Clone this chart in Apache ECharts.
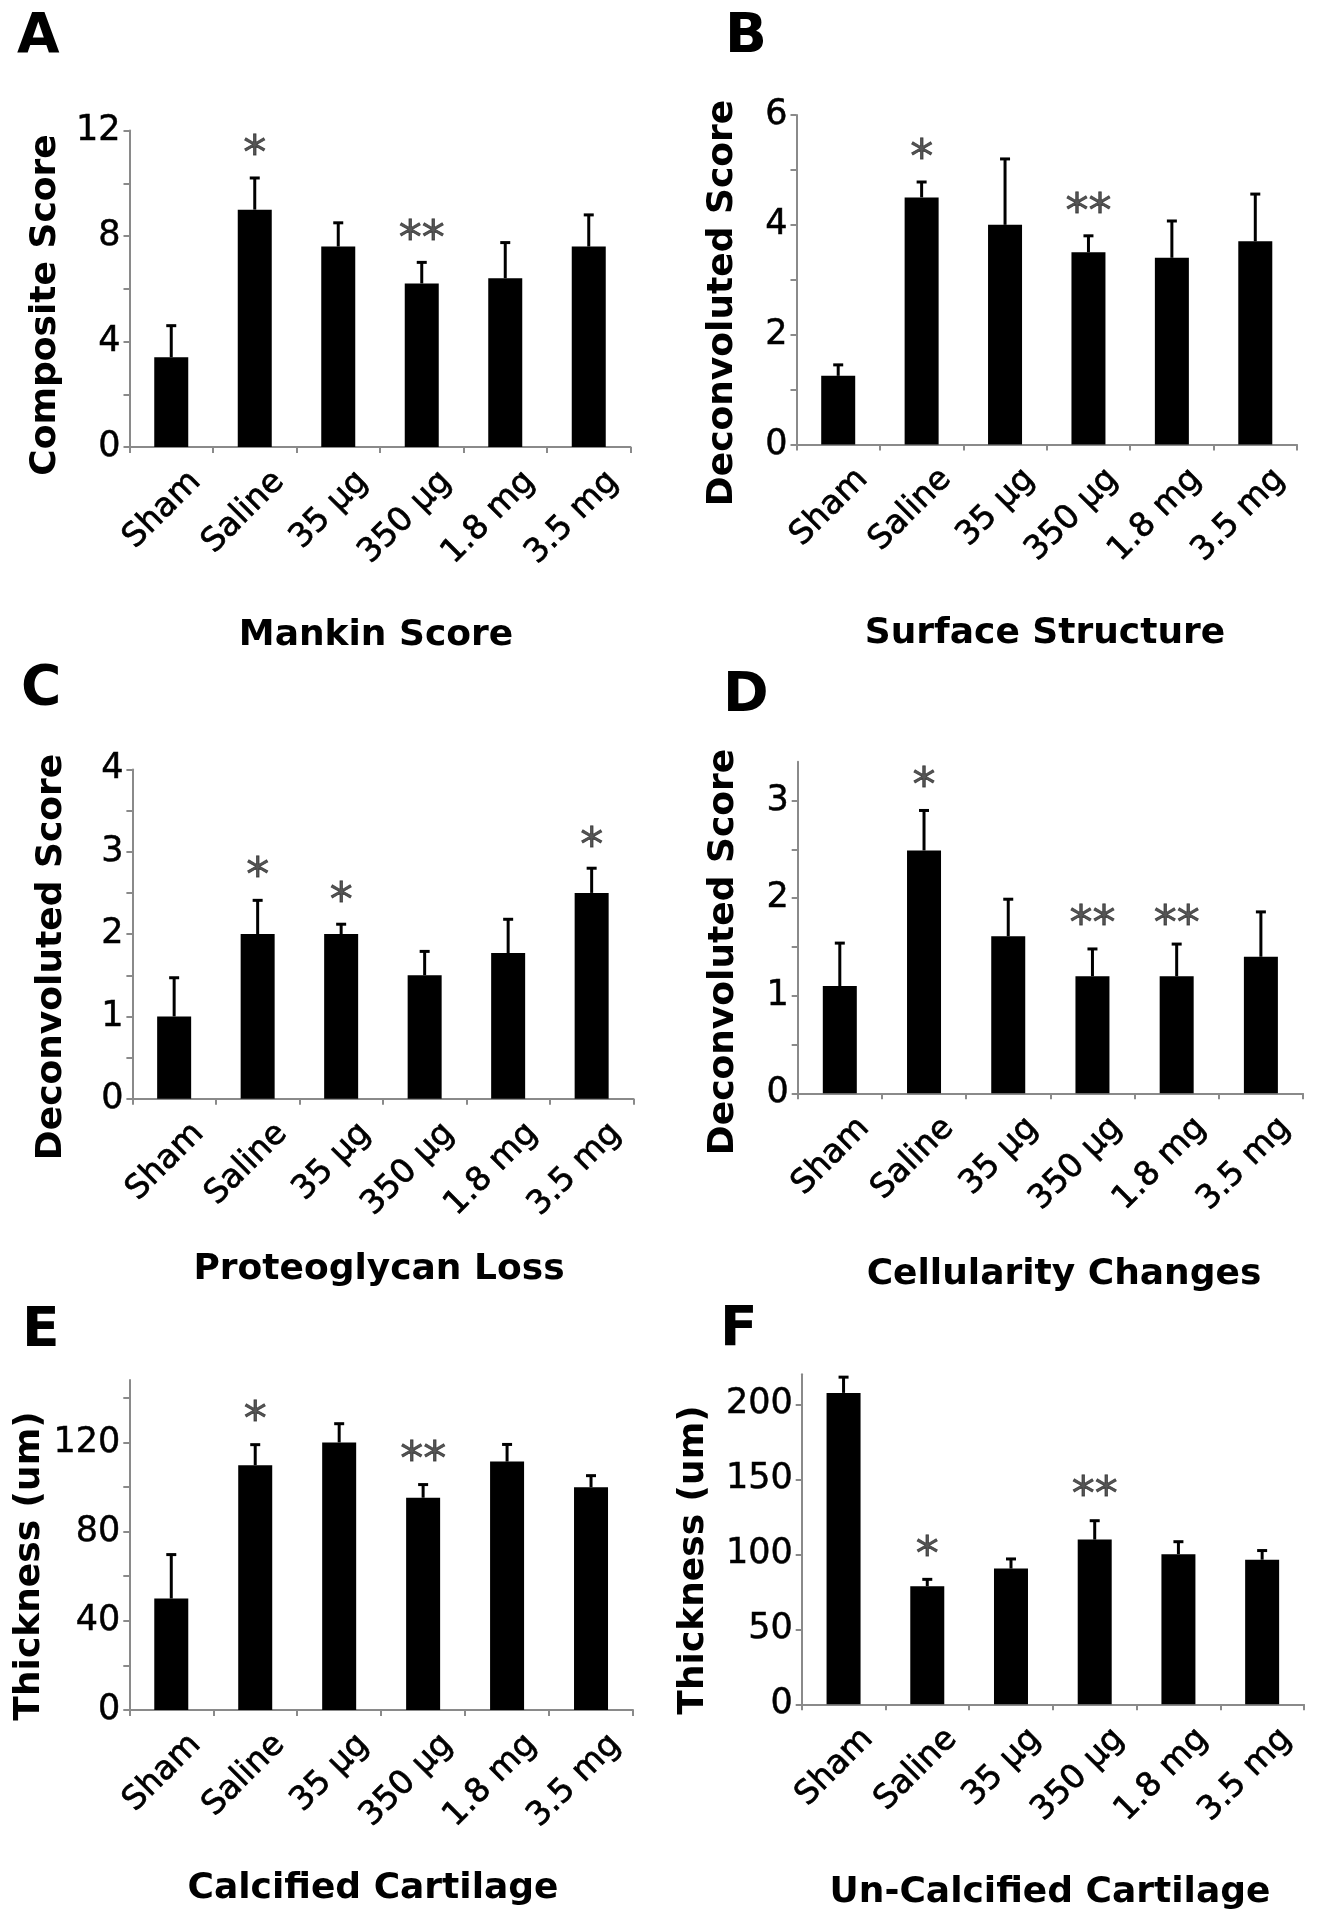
<!DOCTYPE html>
<html><head><meta charset="utf-8">
<script src="https://cdn.jsdelivr.net/npm/echarts@6/dist/echarts.min.js"></script>
<style>html,body{margin:0;padding:0;background:#fff}#c{width:1317px;height:1920px}</style>
</head><body><div id="c"></div>
<script>
// ---------- DATA ----------
const categories = ['Sham', 'Saline', '35 µg', '350 µg', '1.8 mg', '3.5 mg'];

// A: Mankin Score
const mankinMean = [3.4, 9.0, 7.6, 6.2, 6.4, 7.6];
const mankinErr = [1.2, 1.2, 0.9, 0.8, 1.35, 1.2];
const mankinStars = [['Saline', '*', 11.4], ['350 µg', '**', 8.2]];
const mankinTicks = [0, 2, 4, 6, 8, 10, 12];
const mankinLabels = [0, 4, 8, 12];

// B: Surface Structure
const surfaceMean = [1.25, 4.5, 4.0, 3.5, 3.4, 3.7];
const surfaceErr = [0.2, 0.28, 1.2, 0.3, 0.67, 0.86];
const surfaceStars = [['Saline', '*', 5.37], ['350 µg', '**', 4.38]];
const surfaceTicks = [0, 1, 2, 3, 4, 5, 6];
const surfaceLabels = [0, 2, 4, 6];

// C: Proteoglycan Loss
const proteoMean = [1.0, 2.0, 2.0, 1.5, 1.77, 2.5];
const proteoErr = [0.47, 0.41, 0.12, 0.29, 0.41, 0.3];
const proteoStars = [['Saline', '*', 2.8], ['35 µg', '*', 2.5], ['3.5 mg', '*', 3.17]];
const proteoTicks = [0, 0.5, 1, 1.5, 2, 2.5, 3, 3.5, 4];
const proteoLabels = [0, 1, 2, 3, 4];

// D: Cellularity Changes
const cellMean = [1.1, 2.49, 1.61, 1.2, 1.2, 1.4];
const cellErr = [0.44, 0.41, 0.38, 0.28, 0.33, 0.46];
const cellStars = [['Saline', '*', 3.23], ['350 µg', '**', 1.82], ['1.8 mg', '**', 1.82]];
const cellTicks = [0, 0.5, 1, 1.5, 2, 2.5, 3];
const cellLabels = [0, 1, 2, 3];

// E: Calcified Cartilage
const calcMean = [50, 109.8, 120, 95.2, 111.4, 99.9];
const calcErr = [19.7, 9.2, 8.4, 5.9, 7.7, 5.2];
const calcStars = [['Saline', '*', 133.5], ['350 µg', '**', 115.5]];
const calcTicks = [0, 20, 40, 60, 80, 100, 120, 140];
const calcLabels = [0, 40, 80, 120];

// F: Un-Calcified Cartilage
const uncalcMean = [207.6, 78.7, 90.5, 109.8, 100.1, 96.4];
const uncalcErr = [10.5, 4.6, 6.4, 12.6, 8.3, 6.1];
const uncalcStars = [['Saline', '*', 105], ['350 µg', '**', 144.6]];
const uncalcTicks = [0, 50, 100, 150, 200];
const uncalcLabels = [0, 50, 100, 150, 200];

// ---------- LAYOUT ----------
const FONT = '"DejaVu Sans"';
const panels = [
  {letter: 'A', yTitle: 'Composite Score', xTitle: 'Mankin Score', mean: mankinMean, err: mankinErr, stars: mankinStars, ticks: mankinTicks, labels: mankinLabels, max: 12,
   grid: {left: 129.5, top: 130.5, width: 501, height: 316.5}, letterPos: [17, 38], yTitlePos: [46, 305], xTitlePos: [376, 636]},
  {letter: 'B', yTitle: 'Deconvoluted Score', xTitle: 'Surface Structure', mean: surfaceMean, err: surfaceErr, stars: surfaceStars, ticks: surfaceTicks, labels: surfaceLabels, max: 6,
   grid: {left: 796.5, top: 115, width: 500.5, height: 329.5}, letterPos: [725, 38], yTitlePos: [723, 303], xTitlePos: [1045, 634]},
  {letter: 'C', yTitle: 'Deconvoluted Score', xTitle: 'Proteoglycan Loss', mean: proteoMean, err: proteoErr, stars: proteoStars, ticks: proteoTicks, labels: proteoLabels, max: 4,
   grid: {left: 132.4, top: 769.4, width: 501, height: 329.4}, letterPos: [21, 690], yTitlePos: [52, 957], xTitlePos: [379, 1270]},
  {letter: 'D', yTitle: 'Deconvoluted Score', xTitle: 'Cellularity Changes', mean: cellMean, err: cellErr, stars: cellStars, ticks: cellTicks, labels: cellLabels, max: 3.4,
   grid: {left: 797.7, top: 761.7, width: 505.3, height: 331.6}, letterPos: [723, 697], yTitlePos: [724, 952], xTitlePos: [1064, 1275]},
  {letter: 'E', yTitle: 'Thickness (um)', xTitle: 'Calcified Cartilage', mean: calcMean, err: calcErr, stars: calcStars, ticks: calcTicks, labels: calcLabels, max: 148,
   grid: {left: 129.3, top: 1380, width: 503.7, height: 330}, letterPos: [22, 1332], yTitlePos: [30, 1566], xTitlePos: [373, 1889]},
  {letter: 'F', yTitle: 'Thickness (um)', xTitle: 'Un-Calcified Cartilage', mean: uncalcMean, err: uncalcErr, stars: uncalcStars, ticks: uncalcTicks, labels: uncalcLabels, max: 220,
   grid: {left: 801.7, top: 1374.3, width: 502.3, height: 330}, letterPos: [720, 1331], yTitlePos: [694, 1560], xTitlePos: [1050, 1893]}
];

const AXIS_GRAY = '#8a8a8a';
const grids = [], xAxes = [], yAxes = [], series = [], graphics = [];

panels.forEach((p, i) => {
  grids.push(Object.assign({containLabel: false}, p.grid));
  xAxes.push({
    type: 'category', gridIndex: i, data: categories,
    axisLine: {show: true, lineStyle: {color: AXIS_GRAY, width: 2}},
    axisTick: {show: true, length: 6, lineStyle: {color: AXIS_GRAY, width: 2}},
    axisLabel: {rotate: 45, interval: 0, fontFamily: FONT, fontSize: 33, color: '#000', margin: 18, align: 'right', verticalAlign: 'top',
      padding: [9, -9, 0, 0], textBorderColor: '#000', textBorderWidth: 0.7},
    splitLine: {show: false}
  });
  yAxes.push({
    type: 'value', gridIndex: i, min: 0, max: p.max,
    axisLine: {show: true, lineStyle: {color: AXIS_GRAY, width: 2}},
    axisTick: {show: true, length: 6, lineStyle: {color: AXIS_GRAY, width: 2}, customValues: p.ticks},
    axisLabel: {fontFamily: FONT, fontSize: 35, color: '#000', margin: 9, customValues: p.labels,
      textBorderColor: '#000', textBorderWidth: 0.5},
    splitLine: {show: false}
  });
  series.push({
    type: 'bar', xAxisIndex: i, yAxisIndex: i, data: p.mean, barWidth: 34,
    itemStyle: {color: '#000'}, silent: true
  });
  series.push({
    type: 'custom', xAxisIndex: i, yAxisIndex: i,
    data: p.mean.map((m, k) => [k, m, m + p.err[k]]),
    encode: {x: 0, y: [1, 2]},
    renderItem: function (params, api) {
      const top = api.coord([api.value(0), api.value(2)]);
      const base = api.coord([api.value(0), api.value(1)]);
      return {type: 'group', children: [
        {type: 'line', shape: {x1: top[0], y1: base[1], x2: top[0], y2: top[1]}, style: {stroke: '#000', lineWidth: 3}},
        {type: 'line', shape: {x1: top[0] - 5, y1: top[1], x2: top[0] + 5, y2: top[1]}, style: {stroke: '#000', lineWidth: 3}}
      ]};
    },
    silent: true
  });
  series.push({
    type: 'scatter', xAxisIndex: i, yAxisIndex: i,
    data: p.stars.map(s => [s[0], s[2], s[1]]),
    symbolSize: 1, itemStyle: {color: 'rgba(0,0,0,0)'},
    label: {show: true, position: 'inside', formatter: q => q.data[2], fontFamily: FONT, fontSize: 46, color: '#2a2a2a', offset: [0, 10],
      textBorderColor: '#2a2a2a', textBorderWidth: 0.8},
    silent: true
  });
  graphics.push({type: 'text', x: p.letterPos[0], y: p.letterPos[1],
    style: {text: p.letter, font: 'bold 55px ' + FONT, fill: '#000', textAlign: 'left', textVerticalAlign: 'middle'}});
  graphics.push({type: 'text', x: p.yTitlePos[0], y: p.yTitlePos[1], rotation: Math.PI / 2,
    style: {text: p.yTitle, font: 'bold 36px ' + FONT, fill: '#000', textAlign: 'center', textVerticalAlign: 'middle'}});
  graphics.push({type: 'text', x: p.xTitlePos[0], y: p.xTitlePos[1],
    style: {text: p.xTitle, font: 'bold 36px ' + FONT, fill: '#000', textAlign: 'center', textVerticalAlign: 'middle'}});
});

const chart = echarts.init(document.getElementById('c'), null, {renderer: 'canvas'});
chart.setOption({
  backgroundColor: '#fff',
  animation: false,
  grid: grids, xAxis: xAxes, yAxis: yAxes, series: series,
  graphic: {elements: graphics}
});
</script></body></html>
